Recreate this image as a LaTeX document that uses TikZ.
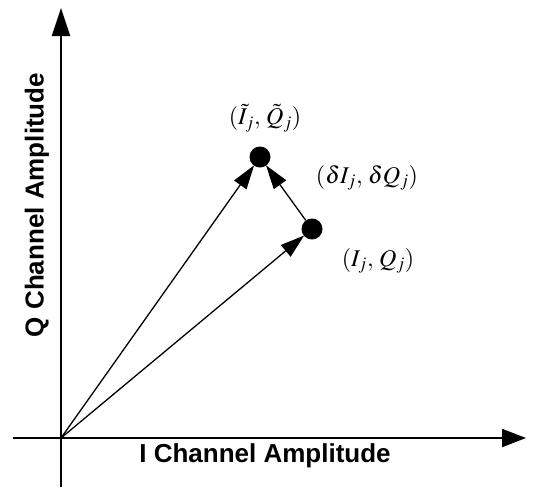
\documentclass[tikz,border=0pt]{standalone}
\usepackage{amsmath,amssymb}
\usepackage{mathptmx}
\usepackage{fontspec}
\setsansfont{Liberation Sans}
\usetikzlibrary{arrows.meta}

\tikzset{
  axislabel/.style={font=\sffamily\bfseries\fontsize{26}{29}\selectfont},
  ptlabel/.style={font=\fontsize{24}{28}\selectfont},
  dot/.style={circle,fill=black,inner sep=0pt,minimum size=21pt},
  vec/.style={line width=1.3pt,-{Triangle[length=24pt,width=15pt]},shorten >=-0.5pt},
}

\begin{document}
\begin{tikzpicture}[x=1pt,y=-1pt]
        \useasboundingbox (0,0) rectangle (538,490);
        % axes
        \coordinate (o) at (61,438);
        \draw[line width=2pt,-{Triangle[length=24pt,width=18pt]}] (13,438) -- (526,438);
        \draw[line width=2pt,-{Triangle[length=28pt,width=18pt]}] (61,487) -- (61,8);
        \node[axislabel] (ilab) at (265,456) {I Channel Amplitude};
        \node[axislabel,rotate=90] (qlab) at (37,205) {Q Channel Amplitude};
        % points
        \node[dot] (qt) at (260,157) {};
        \node[dot] (q) at (312,229) {};
        \foreach \a/\b in {o/qt,o/q,q/qt} {
            \draw[vec] (\a) -- (\b);
          }
        \node[ptlabel] (qtlab) at (265,118) {$(\tilde{I}_j,\, \tilde{Q}_j)$};
        \node[ptlabel] (dlab) at (367,178) {$(\delta I_j,\, \delta Q_j)$};
        \node[ptlabel] (qlab2) at (378,261) {$(I_j,\, Q_j)$};
      \end{tikzpicture}
\end{document}
